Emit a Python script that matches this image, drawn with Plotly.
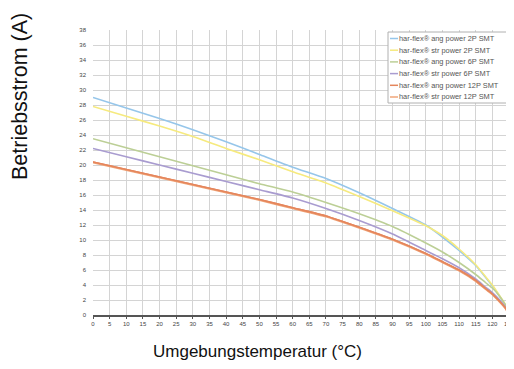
import plotly.graph_objects as go

temps = [0, 10, 20, 30, 40, 50, 60, 70, 80, 90, 100, 105, 110, 115, 118, 120, 122, 124, 125]

series_names = [
    "har-flex® ang power 2P SMT",
    "har-flex® str power 2P SMT",
    "har-flex® ang power 6P SMT",
    "har-flex® str power 6P SMT",
    "har-flex® ang power 12P SMT",
    "har-flex® str power 12P SMT",
]
ang_2p = [29.0, 27.6, 26.2, 24.7, 23.1, 21.4, 19.7, 18.2, 16.3, 14.2, 12.0, 10.4, 8.6, 6.6, 5.0, 3.9, 2.6, 1.2, 0.0]
str_2p = [27.8, 26.5, 25.2, 23.8, 22.2, 20.7, 19.1, 17.6, 15.8, 13.9, 11.9, 10.6, 8.8, 6.7, 5.1, 4.0, 2.7, 1.3, 0.0]
ang_6p = [23.5, 22.3, 21.1, 19.9, 18.7, 17.5, 16.4, 15.0, 13.5, 11.8, 9.6, 8.4, 7.0, 5.4, 4.3, 3.6, 2.6, 1.3, 0.0]
str_6p = [22.2, 21.1, 20.0, 18.9, 17.8, 16.7, 15.6, 14.2, 12.6, 10.8, 8.6, 7.5, 6.3, 4.8, 3.7, 3.0, 2.1, 1.0, 0.0]
ang_12p = [20.4, 19.4, 18.4, 17.4, 16.4, 15.4, 14.3, 13.2, 11.7, 10.1, 8.2, 7.1, 6.0, 4.6, 3.5, 2.8, 1.9, 0.9, 0.0]
str_12p = [20.3, 19.3, 18.3, 17.3, 16.3, 15.3, 14.2, 13.1, 11.6, 10.0, 8.1, 7.0, 5.9, 4.5, 3.4, 2.7, 1.8, 0.8, 0.0]
series_values = [ang_2p, str_2p, ang_6p, str_6p, ang_12p, str_12p]
colors = ["#96c6ea", "#f6ea7e", "#bccf96", "#a99cd0", "#e5865c", "#f0a67a"]

x_ticks = list(range(0, 126, 5))
y_ticks = list(range(0, 39, 2))

fig = go.Figure()
for name, vals, col in zip(series_names, series_values, colors):
    fig.add_trace(go.Scatter(x=temps, y=vals, mode="lines", name=name,
                             line=dict(color=col, width=1.6, shape="spline", smoothing=0.5),
                             showlegend=False))
fig.add_trace(go.Scatter(x=temps, y=ang_12p, mode="lines", showlegend=False,
                         line=dict(color=colors[4], width=1.6, shape="spline", smoothing=0.5)))

# page body has an 8px margin; work in reference pixel coordinates
OFF = 8
W, H = 514 - OFF, 369 - 2 * OFF
PL, PR, PT, PB = 93, 509, 30, 315  # plot area in reference pixels
L, R, T, B = PL - OFF, W - (PR - OFF), PT - OFF, H - (PB - OFF)
pw, ph = W - L - R, H - T - B

def px(x):
    return (x - OFF - L) / pw

def py(y):
    return (H - B - (y - OFF)) / ph

shapes = []
annotations = []
shapes.append(dict(type="rect", xref="paper", yref="paper",
                   x0=px(388), x1=px(507), y0=py(103), y1=py(32),
                   line=dict(color="#b0b0b0", width=1), fillcolor="white", layer="above"))
for i, (name, col) in enumerate(zip(series_names, colors)):
    yy = 38.5 + i * 11.7
    shapes.append(dict(type="line", xref="paper", yref="paper",
                       x0=px(390), x1=px(398), y0=py(yy), y1=py(yy),
                       line=dict(color=col, width=1.5), layer="above"))
    annotations.append(dict(text=name, xref="paper", yref="paper", x=px(397), y=py(yy),
                            xanchor="left", yanchor="middle", showarrow=False,
                            font=dict(size=7.4, color="#555", family="Liberation Sans")))

annotations.append(dict(text="Umgebungstemperatur (°C)", xref="paper", yref="paper",
                        x=px(257), y=py(351), xanchor="center", yanchor="middle", showarrow=False,
                        font=dict(size=17, color="#111", family="Liberation Sans")))
annotations.append(dict(text="Betriebsstrom (A)", xref="paper", yref="paper",
                        x=px(20), y=py(97), xanchor="center", yanchor="middle", showarrow=False,
                        textangle=-90,
                        font=dict(size=21.5, color="#111", family="Liberation Sans")))

fig.update_layout(
    width=W, height=H,
    margin=dict(l=L, r=R, t=T, b=B, autoexpand=False),
    paper_bgcolor="white", plot_bgcolor="white",
    shapes=shapes, annotations=annotations,
    xaxis=dict(range=[0, 125], tickvals=x_ticks, ticktext=[str(v) for v in x_ticks],
               showgrid=True, gridcolor="#d4d4d4", gridwidth=1,
               showline=True, linecolor="#555", linewidth=1.5,
               ticks="outside", ticklen=2, tickcolor="#555",
               tickfont=dict(size=6, color="#444", family="Liberation Sans"),
               ticklabeloverflow="allow",
               zeroline=False, fixedrange=True, automargin=False),
    yaxis=dict(range=[0, 38], tickvals=y_ticks, ticktext=[str(v) for v in y_ticks],
               showgrid=True, gridcolor="#d4d4d4", gridwidth=1,
               showline=False, ticks="", ticklabelstandoff=6,
               tickfont=dict(size=6, color="#444", family="Liberation Sans"),
               zeroline=False, fixedrange=True, automargin=False),
)

fig.write_html("out.html")
